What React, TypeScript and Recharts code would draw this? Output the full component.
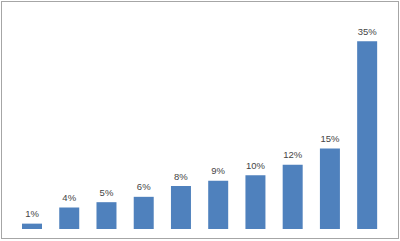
import React from "react";
import { BarChart, Bar, XAxis, YAxis, LabelList } from "recharts";

const categories = ["A", "B", "C", "D", "E", "F", "G", "H", "I", "J"];
const values = [1, 4, 5, 6, 8, 9, 10, 12, 15, 35];
const labels = ["1%", "4%", "5%", "6%", "8%", "9%", "10%", "12%", "15%", "35%"];

const data = categories.map((c, i) => ({ name: c, value: values[i], label: labels[i] }));

export default function App() {
  return (
    <div style={{ position: "fixed", left: 0, top: 0, width: 400, height: 241, background: "#fff" }}>
      <div
        style={{
          position: "absolute",
          left: 1,
          top: 1,
          width: 396,
          height: 236,
          border: "1px solid #a6a6a6",
        }}
      />
      <BarChart
        width={400}
        height={241}
        data={data}
        margin={{ top: 41.3, right: 14.4, bottom: 12, left: 13.2 }}
        barCategoryGap={8.8}
        style={{ position: "absolute", left: 0, top: 0 }}
      >
        <XAxis dataKey="name" hide />
        <YAxis hide domain={[0, 35]} />
        <Bar dataKey="value" fill="#4f81bd" isAnimationActive={false}>
          <LabelList
            dataKey="label"
            position="top"
            offset={6.5}
            style={{ fontFamily: "Liberation Sans, Arial, sans-serif", fontSize: 9.5, fill: "#454545" }}
          />
        </Bar>
      </BarChart>
    </div>
  );
}
